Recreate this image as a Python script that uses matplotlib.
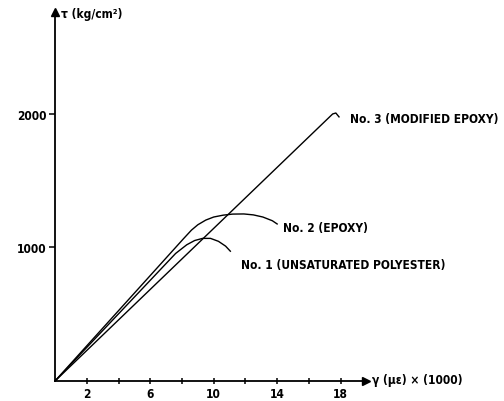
import matplotlib
matplotlib.use("Agg")
import matplotlib.pyplot as plt
from matplotlib import font_manager

names = {f.name for f in font_manager.fontManager.ttflist}
narrow = [n for n in ["Liberation Sans Narrow", "DejaVu Sans Condensed"] if n in names]
plt.rcParams["font.family"] = narrow + ["DejaVu Sans"]
plt.rcParams["font.stretch"] = "condensed"
plt.rcParams["font.weight"] = "bold"

# strain (x1000) and shear stress (kg/cm2)
no1_x = [0, 7.6, 8.3, 8.8, 9.3, 9.8, 10.3, 10.75, 11.05]
no1_y = [0, 955, 1020, 1052, 1068, 1068, 1046, 1010, 972]

no2_x = [0, 8.1, 8.6, 9.0, 9.5, 10.0, 10.6, 11.2, 11.9, 12.5, 13.1, 13.7, 14.0]
no2_y = [0, 1066, 1130, 1170, 1205, 1228, 1242, 1250, 1251, 1244, 1228, 1200, 1176]

no3_x = [0, 17.5, 17.7, 17.9]
no3_y = [0, 2000, 2007, 1978]

labels = ["No. 1 (UNSATURATED POLYESTER)", "No. 2 (EPOXY)", "No. 3 (MODIFIED EPOXY)"]
x_major = [2, 6, 10, 14, 18]
x_minor = [4, 8, 12, 16]
y_ticks = [1000, 2000]

fig = plt.figure(figsize=(5.04, 4.02), dpi=100)
ax = fig.add_axes([0, 0, 1, 1])
ax.set_xlim(-3.47, 28.3)
ax.set_ylim(-150, 2861)

for xs, ys in [(no1_x, no1_y), (no2_x, no2_y), (no3_x, no3_y)]:
    ax.plot(xs, ys, color="black", lw=1.0)

# axes through the origin with arrow heads
for s in ["top", "right"]:
    ax.spines[s].set_visible(False)
ax.spines["left"].set_position(("data", 0))
ax.spines["bottom"].set_position(("data", 0))
ax.spines["left"].set_bounds(0, 2740)
ax.spines["bottom"].set_bounds(0, 19.5)
ax.spines["left"].set_linewidth(1.3)
ax.spines["bottom"].set_linewidth(1.3)
ax.plot(19.6, 0, ">", color="black", ms=6, clip_on=False)
ax.plot(0, 2760, "^", color="black", ms=6, clip_on=False)

fs = 8.6
ax.set_xticks(x_major)
ax.set_xticks(x_minor, minor=True)
ax.set_xticklabels([str(v) for v in x_major], fontsize=fs, fontweight="bold")
ax.tick_params(axis="x", which="both", direction="inout", length=5, width=1.1, pad=1.5)
ax.set_yticks(y_ticks)
ax.set_yticklabels([str(v) for v in y_ticks], fontsize=fs, fontweight="bold")
ax.tick_params(axis="y", direction="out", length=4, width=1.1, pad=2)

ax.text(18.6, 1963, labels[2], fontsize=fs, fontweight="bold", va="center", ha="left")
ax.text(14.4, 1146, labels[1], fontsize=fs, fontweight="bold", va="center", ha="left")
ax.text(11.7, 876, labels[0], fontsize=fs, fontweight="bold", va="center", ha="left")

ax.text(0.4, 2750, "\u03c4 (kg/cm\u00b2)", fontsize=fs, fontweight="bold", va="center", ha="left")
ax.text(20.0, 8, "\u03b3 (\u03bc\u03b5) \u00d7 (1000)", fontsize=fs, fontweight="bold", va="center", ha="left")

fig.savefig("out.png", dpi=100)
